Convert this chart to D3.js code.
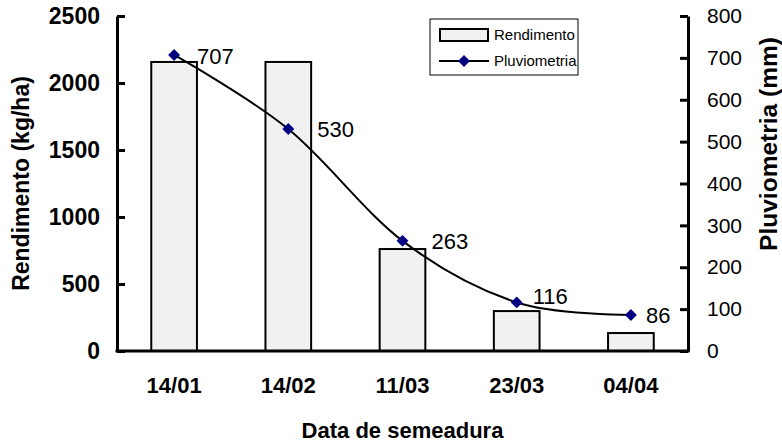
<!DOCTYPE html>
<html>
<head>
<meta charset="utf-8">
<script src="https://cdn.jsdelivr.net/npm/d3@7"></script>
<style>
  html, body { margin: 0; padding: 0; background: #fff; }
  svg { display: block; }
  text { font-family: "Liberation Sans", Arial, Helvetica, sans-serif; fill: #000; }
</style>
</head>
<body>
<svg id="chart" width="782" height="443"></svg>
<script>
// Sowing dates
const categories = ["14/01", "14/02", "11/03", "23/03", "04/04"];
// Grain yield (kg/ha) per sowing date
const rendimento = [2157, 2157, 761, 298, 134];
// Rainfall (mm) over the cycle per sowing date
const pluviometria = [707, 530, 263, 116, 86];
// Axis ticks
const ticksLeft = [0, 500, 1000, 1500, 2000, 2500];
const ticksRight = [0, 100, 200, 300, 400, 500, 600, 700, 800];

const svg = d3.select("#chart");
const plot = { left: 117, right: 688, top: 16, bottom: 351 };
const FONT = '"Liberation Sans", Arial, sans-serif';

const x = d3.scaleBand()
  .domain(categories)
  .range([plot.left, plot.right])
  .paddingInner(0.6)
  .paddingOuter(0.3);

const yL = d3.scaleLinear().domain([0, 2500]).range([plot.bottom, plot.top]);
const yR = d3.scaleLinear().domain([0, 800]).range([plot.bottom, plot.top]);

// fine stipple fill for the bars
const defs = svg.append("defs");
const pat = defs.append("pattern")
  .attr("id", "stipple")
  .attr("patternUnits", "userSpaceOnUse")
  .attr("width", 4).attr("height", 4);
pat.append("rect").attr("width", 4).attr("height", 4).attr("fill", "#f3f3f3");
pat.append("rect").attr("x", 0).attr("y", 0).attr("width", 1).attr("height", 1).attr("fill", "#e2e2e2");
pat.append("rect").attr("x", 2).attr("y", 2).attr("width", 1).attr("height", 1).attr("fill", "#e2e2e2");

// bars
svg.append("g").selectAll("rect")
  .data(categories)
  .join("rect")
  .attr("x", d => x(d))
  .attr("y", (d, i) => yL(rendimento[i]))
  .attr("width", x.bandwidth())
  .attr("height", (d, i) => yL(0) - yL(rendimento[i]))
  .attr("fill", "url(#stipple)")
  .attr("stroke", "#000")
  .attr("stroke-width", 2);

// rainfall line (smoothed)
const pts = categories.map((c, i) => [x(c) + x.bandwidth() / 2, yR(pluviometria[i])]);
svg.append("path")
  .datum(pts)
  .attr("d", d3.line().curve(d3.curveCatmullRom.alpha(0)))
  .attr("fill", "none")
  .attr("stroke", "#000")
  .attr("stroke-width", 2);

const diamond = d3.symbol().type(d3.symbolDiamond2).size(90);
svg.append("g").selectAll("path")
  .data(pts)
  .join("path")
  .attr("transform", d => `translate(${d[0]},${d[1]})`)
  .attr("d", diamond)
  .attr("fill", "#000080");

// value labels beside the rainfall markers
const labelNudge = [[23, 1], [29, 0], [29, 0], [16, -6], [15, 0]];
svg.append("g").selectAll("text")
  .data(pts)
  .join("text")
  .attr("x", (d, i) => d[0] + labelNudge[i][0])
  .attr("y", (d, i) => d[1] + labelNudge[i][1])
  .attr("dy", "0.36em")
  .attr("font-size", 22)
  .text((d, i) => pluviometria[i]);

// left axis
const axL = svg.append("g")
  .attr("transform", `translate(${plot.left},0)`)
  .call(d3.axisLeft(yL).tickValues(ticksLeft).tickFormat(d3.format("d"))
    .tickSizeInner(-8).tickSizeOuter(0).tickPadding(17));
axL.select(".domain").attr("stroke-width", 3).attr("stroke", "#000");
axL.selectAll(".tick line").attr("stroke-width", 3).attr("stroke", "#000");
axL.selectAll(".tick text")
  .attr("font-size", 23).attr("font-weight", "bold")
  .style("font-family", FONT);

// right axis
const axR = svg.append("g")
  .attr("transform", `translate(${plot.right},0)`)
  .call(d3.axisRight(yR).tickValues(ticksRight).tickFormat(d3.format("d"))
    .tickSizeInner(-8).tickSizeOuter(0).tickPadding(19));
axR.select(".domain").attr("stroke-width", 3).attr("stroke", "#000");
axR.selectAll(".tick line").attr("stroke-width", 3).attr("stroke", "#000");
axR.selectAll(".tick text")
  .attr("font-size", 21)
  .style("font-family", FONT);

// bottom axis
const axB = svg.append("g")
  .attr("transform", `translate(0,${plot.bottom})`)
  .call(d3.axisBottom(x).tickSize(0).tickPadding(26));
axB.select(".domain").attr("stroke-width", 3).attr("stroke", "#000")
  .attr("d", `M${plot.left - 1.5},0H${plot.right + 1.5}`);
axB.selectAll(".tick text")
  .attr("font-size", 22).attr("font-weight", "bold")
  .style("font-family", FONT);

// axis titles
svg.append("text")
  .attr("transform", `translate(29,${(plot.top + plot.bottom) / 2}) rotate(-90)`)
  .attr("text-anchor", "middle")
  .attr("font-size", 23).attr("font-weight", "bold")
  .text("Rendimento (kg/ha)");

svg.append("text")
  .attr("transform", `translate(777,144) rotate(-90)`)
  .attr("text-anchor", "middle")
  .attr("font-size", 24.5).attr("font-weight", "bold")
  .text("Pluviometria (mm)");

svg.append("text")
  .attr("x", (plot.left + plot.right) / 2)
  .attr("y", 438)
  .attr("text-anchor", "middle")
  .attr("font-size", 22).attr("font-weight", "bold")
  .text("Data de semeadura");

// legend
const lg = svg.append("g").attr("transform", "translate(430,19)");
lg.append("rect").attr("width", 148).attr("height", 56)
  .attr("fill", "#fff").attr("stroke", "#000").attr("stroke-width", 1);
lg.append("rect").attr("x", 10).attr("y", 10).attr("width", 48).attr("height", 12)
  .attr("fill", "url(#stipple)").attr("stroke", "#000").attr("stroke-width", 2);
lg.append("text").attr("x", 64).attr("y", 16).attr("dy", "0.36em")
  .attr("font-size", 15).text("Rendimento");
lg.append("line").attr("x1", 9).attr("x2", 59).attr("y1", 42).attr("y2", 42)
  .attr("stroke", "#000").attr("stroke-width", 2);
lg.append("path").attr("transform", "translate(34,42)").attr("d", diamond).attr("fill", "#000080");
lg.append("text").attr("x", 64).attr("y", 42).attr("dy", "0.36em")
  .attr("font-size", 15).text("Pluviometria");
</script>
</body>
</html>
